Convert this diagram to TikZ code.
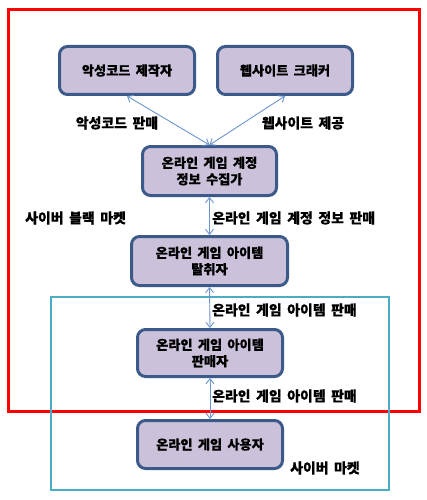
\documentclass[tikz,border=0pt]{standalone}
\usepackage{fontspec}
\setmainfont{Noto Sans CJK KR}[FakeBold=0.3]
\usetikzlibrary{arrows.meta}
\definecolor{boxfill}{HTML}{CCC1DA}
\definecolor{boxline}{HTML}{3B5A8A}
\definecolor{linkblue}{HTML}{6A95CF}
\definecolor{marketcyan}{HTML}{4BACC6}
\newcommand{\hangulspace}{\spaceskip=0.4em plus 0pt\relax}
\begin{document}
\begin{tikzpicture}[x=1pt,y=-1pt,
    actor/.style={draw=boxline, line width=3pt, fill=boxfill, rounded corners=8pt,
        align=center, inner sep=0pt,
        font=\fontsize{13.2}{16.5}\selectfont\bfseries\hangulspace},
    trade/.style={draw=linkblue, line width=0.9pt,
        {Straight Barb[length=5pt,width=8pt]}-{Straight Barb[length=5pt,width=8pt]}},
    tag/.style={inner sep=0pt,
        font=\fontsize{13.9}{15}\selectfont\bfseries\hangulspace}]
    \useasboundingbox (0,0) rectangle (427,500);
    % 시장 영역
    \draw[red, line width=3pt] (8,10) rectangle (419,411);
    \draw[marketcyan, line width=2.6pt] (51,297) rectangle (389,490);
    % 참여자
    \node[actor, minimum width=135pt, minimum height=48pt] (maker) at (127,70.5) {악성코드 제작자};
    \node[actor, minimum width=135pt, minimum height=48pt] (cracker) at (285,70.5) {웹사이트 크래커};
    \node[actor, minimum width=134pt, minimum height=49pt] (collector) at (209.5,171) {온라인 게임 계정\\정보 수집가};
    \node[actor, minimum width=156pt, minimum height=49pt] (thief) at (209.5,261) {온라인 게임 아이템\\탈취자};
    \node[actor, minimum width=145pt, minimum height=47pt] (seller) at (210,353) {온라인 게임 아이템\\판매자};
    \node[actor, minimum width=145pt, minimum height=48pt] (user) at (210,444.5) {온라인 게임 사용자};
    % 거래
    \draw[trade] (maker.south) -- (collector.north);
    \draw[trade] (cracker.south) -- (collector.north);
    \draw[trade] (collector.south) -- (thief.north);
    \draw[trade] (thief.south) -- (seller.north);
    \draw[trade] (seller.south) -- (user.north);
    \node[tag] (sellcode) at (117,123) {악성코드 판매};
    \node[tag] (givesite) at (303,123) {웹사이트 제공};
    \node[tag, anchor=west] (sellaccount) at (212,218) {온라인 게임 계정 정보 판매};
    \node[tag, anchor=west] (sellitem) at (212,310) {온라인 게임 아이템 판매};
    \node[tag, anchor=west] (sellitemuser) at (212,396) {온라인 게임 아이템 판매};
    \node[tag, anchor=west] (blackmarket) at (25,218) {사이버 블랙 마켓};
    \node[tag, anchor=west] (market) at (290,468) {사이버 마켓};
\end{tikzpicture}
\end{document}
